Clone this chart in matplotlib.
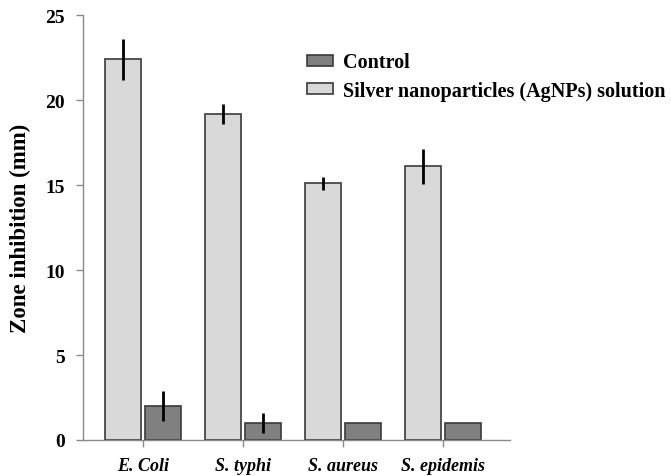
import matplotlib
matplotlib.use("Agg")
import matplotlib.pyplot as plt
import numpy as np

categories = ["E. Coli", "S. typhi", "S. aureus", "S. epidemis"]
agnp_values = [22.4, 19.2, 15.1, 16.1]
agnp_errors = [1.2, 0.6, 0.4, 1.05]
control_values = [2.0, 1.0, 1.0, 1.0]
control_errors = [0.9, 0.57, 0.0, 0.0]
yticks = [0, 5, 10, 15, 20, 25]

plt.rcParams['font.family'] = ['Liberation Serif', 'DejaVu Serif']

fig = plt.figure(figsize=(6.71, 4.77), dpi=100)
ax = fig.add_axes([0.1237, 0.0755, 0.6363, 0.8905])

x = np.arange(len(categories))
w = 0.36
off = 0.2
err_kw = dict(ecolor='black', elinewidth=2.0, capsize=0)
b1 = ax.bar(x - off, agnp_values, w, color='#d9d9d9', edgecolor='#3a3a3a', linewidth=1.2,
            yerr=agnp_errors, error_kw=err_kw, label='Silver nanoparticles (AgNPs) solution', zorder=2)
b2 = ax.bar(x + off, control_values, w, color='#808080', edgecolor='#3a3a3a', linewidth=1.2,
            yerr=control_errors, error_kw=err_kw, label='Control', zorder=2)

ax.set_xlim(-0.6, 3.67)
ax.set_ylim(0, 25)
ax.set_yticks(yticks)
ax.set_yticklabels([str(t) for t in yticks], fontsize=14, fontweight='bold')
ax.set_xticks(x)
ax.set_xticklabels(categories, fontsize=13, fontweight='bold', fontstyle='italic')
for s in ['top', 'right']:
    ax.spines[s].set_visible(False)
for s in ['left', 'bottom']:
    ax.spines[s].set_color('#8a8a8a')
    ax.spines[s].set_linewidth(1.0)
ax.tick_params(axis='both', direction='out', length=5, color='#8a8a8a', width=1.0)
ax.tick_params(axis='y', pad=8)
ax.tick_params(axis='x', pad=7)
ax.set_ylabel('Zone inhibition (mm)', fontsize=16.5, fontweight='bold', labelpad=10)

leg = fig.legend([b2, b1], ['Control', 'Silver nanoparticles (AgNPs) solution'],
                 loc='upper left', bbox_to_anchor=(0.4575, 0.888), frameon=False,
                 prop={'weight': 'bold', 'size': 14.5}, handlelength=1.3, handleheight=0.5,
                 handletextpad=0.5, labelspacing=0.42, borderaxespad=0, borderpad=0)

fig.savefig('out.png', dpi=100)
